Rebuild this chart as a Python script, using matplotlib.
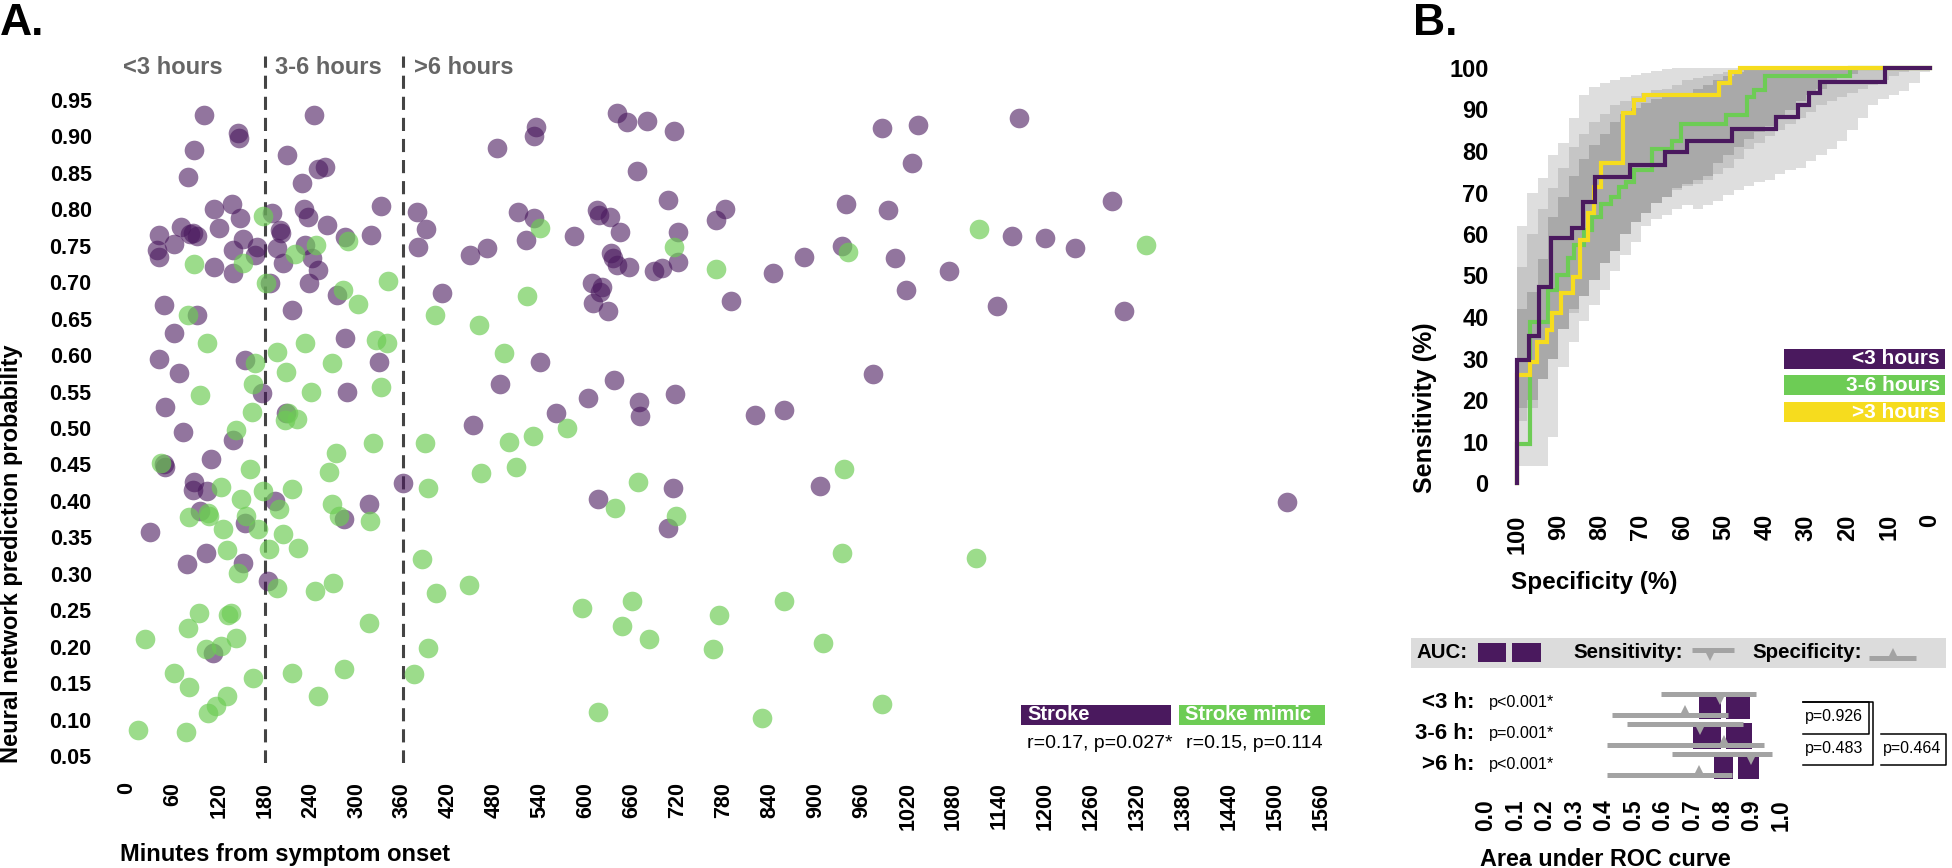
import matplotlib
matplotlib.use('Agg')
import matplotlib.pyplot as plt
from matplotlib.patches import Rectangle
from matplotlib.lines import Line2D
import numpy as np

plt.rcParams['font.family'] = ['Liberation Sans', 'DejaVu Sans']
plt.rcParams['font.weight'] = 'bold'

# ---------------- data: panel A (minutes, probability) ----------------
stroke_min = [100, 145, 146, 88, 80, 244, 209, 249, 259, 229, 114, 137, 148, 70, 82, 91, 86, 42, 62, 39, 42,
              120, 152, 138, 114, 138, 170, 167, 190, 200, 201, 196, 204, 231, 236, 261, 285, 319, 332, 232,
              242, 250, 238, 187, 274, 215, 48, 92, 61, 42, 68, 154, 177, 285, 329, 288, 49, 208, 73, 139,
              379, 391, 380, 412, 483, 535, 532, 511, 532, 521, 448, 470, 640, 653, 679, 715, 666, 707, 614,
              617, 631, 644, 584, 720, 632, 635, 640, 656, 689, 699, 720, 607, 621, 618, 609, 629, 539, 487,
              636, 602, 561, 669, 670, 716, 452,
              48, 50, 110, 87, 86, 104, 96, 154, 30, 103, 78, 151, 113, 193, 184, 316, 283, 361, 615, 713, 707,
              987, 1033, 1166, 1025, 939, 994, 1287, 781, 769, 1156, 1199, 1239, 844, 884, 934, 1003, 1074,
              1018, 789, 1137, 1302, 975, 821, 859, 906, 1516]
stroke_prob = [0.929, 0.905, 0.898, 0.882, 0.845, 0.930, 0.875, 0.856, 0.858, 0.836, 0.801, 0.807, 0.788,
               0.776, 0.766, 0.763, 0.768, 0.765, 0.753, 0.744, 0.735, 0.774, 0.760, 0.744, 0.721, 0.712,
               0.749, 0.737, 0.795, 0.772, 0.768, 0.747, 0.726, 0.801, 0.790, 0.779, 0.762, 0.765, 0.804,
               0.751, 0.733, 0.717, 0.699, 0.699, 0.683, 0.662, 0.669, 0.655, 0.630, 0.594, 0.575, 0.593,
               0.548, 0.623, 0.591, 0.550, 0.529, 0.520, 0.494, 0.483,
               0.797, 0.773, 0.748, 0.685, 0.884, 0.913, 0.900, 0.796, 0.788, 0.758, 0.737, 0.747, 0.932,
               0.920, 0.921, 0.907, 0.852, 0.813, 0.799, 0.792, 0.790, 0.769, 0.764, 0.769, 0.740, 0.733,
               0.724, 0.721, 0.715, 0.719, 0.728, 0.699, 0.694, 0.687, 0.671, 0.661, 0.590, 0.561, 0.566,
               0.541, 0.521, 0.536, 0.517, 0.546, 0.504,
               0.450, 0.446, 0.457, 0.426, 0.415, 0.413, 0.386, 0.370, 0.357, 0.329, 0.314, 0.315, 0.191,
               0.400, 0.290, 0.396, 0.375, 0.425, 0.402, 0.418, 0.363,
               0.911, 0.916, 0.926, 0.864, 0.808, 0.799, 0.811, 0.801, 0.785, 0.763, 0.761, 0.747, 0.712,
               0.735, 0.750, 0.733, 0.716, 0.689, 0.674, 0.667, 0.661, 0.574, 0.518, 0.525, 0.420, 0.398]

mimic_min = [178, 87, 151, 182, 219, 247, 289, 282, 302, 341, 80, 105, 196, 232, 208, 268, 325, 340, 167,
             164, 241, 332, 96, 163, 207, 222, 210, 143, 402, 460, 492, 523, 540, 715, 575, 499, 531, 389,
             322, 273,
             161, 264, 463, 508, 44, 123, 178, 215, 393, 668, 149, 268, 199, 81, 106, 107, 155, 277, 318,
             637, 717, 126, 171, 204, 130, 186, 224, 145, 196, 245, 269, 386, 404, 447, 94, 132, 136, 80,
             142, 316, 24, 103, 123, 595, 660, 647, 682, 393, 62, 81, 165, 215, 283, 375, 131, 249, 116,
             106, 15, 77, 616,
             1113, 1331, 770, 942, 937, 934, 1109, 858, 774, 766, 909, 987, 829]
mimic_prob = [0.791, 0.725, 0.726, 0.699, 0.739, 0.751, 0.756, 0.689, 0.670, 0.702, 0.655, 0.617, 0.604,
              0.617, 0.577, 0.589, 0.621, 0.617, 0.589, 0.561, 0.549, 0.556, 0.545, 0.522, 0.511, 0.513,
              0.520, 0.497, 0.655, 0.641, 0.603, 0.681, 0.775, 0.749, 0.500, 0.481, 0.489, 0.479, 0.479,
              0.466,
              0.444, 0.439, 0.438, 0.446, 0.452, 0.419, 0.413, 0.417, 0.418, 0.426, 0.403, 0.396, 0.389,
              0.378, 0.383, 0.379, 0.379, 0.379, 0.372, 0.390, 0.379, 0.362, 0.362, 0.354, 0.333, 0.334,
              0.336, 0.301, 0.281, 0.276, 0.287, 0.320, 0.274, 0.284, 0.246, 0.243, 0.246, 0.226, 0.212,
              0.232, 0.210, 0.197, 0.201, 0.253, 0.263, 0.228, 0.211, 0.198, 0.164, 0.144, 0.157, 0.164,
              0.169, 0.162, 0.133, 0.132, 0.118, 0.109, 0.085, 0.083, 0.111,
              0.773, 0.751, 0.718, 0.742, 0.444, 0.328, 0.322, 0.263, 0.243, 0.197, 0.205, 0.122, 0.102]

period_labels = ['<3 hours', '3-6 hours', '>6 hours']
period_bounds = [180, 360]
legend_A = ['Stroke', 'Stroke mimic']
corr_A = ['r=0.17, p=0.027*', 'r=0.15, p=0.114']

# ---------------- data: panel B ROC (specificity %, sensitivity %) ----------------
roc_lt3_spec = [100, 100, 97.0, 94.6, 91.8, 86.8, 83.9, 81.1, 72.6, 64.2, 58.9, 48.0, 37.4, 32.0, 29.4, 26.7, 10.8, 0]
roc_lt3_sens = [0, 29.6, 35.4, 47.3, 59.1, 61.4, 67.8, 73.8, 76.6, 79.8, 82.5, 85.3, 88.3, 91.1, 93.9, 96.7, 100, 100]
roc_36_spec = [100, 100, 96.9, 92.6, 90.2, 87.7, 86.1, 83.7, 81.9, 79.6, 77.2, 75.4, 73.5, 71.6, 67.2, 62.4,
               60.3, 49.3, 44.2, 42.6, 40.0, 19.3, 0]
roc_36_sens = [0, 9.5, 38.9, 46.5, 50.1, 54.1, 57.3, 61.0, 64.2, 67.2, 69.0, 71.4, 72.6, 75.4, 80.5, 82.5,
               86.5, 88.6, 93.0, 94.7, 98.0, 100, 100]
roc_gt6_spec = [100, 100, 96.9, 95.2, 92.8, 91.6, 89.3, 86.5, 84.7, 82.8, 81.4, 79.6, 74.4, 71.6, 69.3, 51.2,
                48.4, 46.1, 0]
roc_gt6_sens = [0, 26.0, 29.2, 34.0, 36.9, 40.9, 45.7, 49.7, 58.6, 65.0, 71.4, 77.0, 89.1, 92.3, 93.5, 96.3,
                99.1, 100, 100]
roc_labels = ['<3 hours', '3-6 hours', '>3 hours']

band_spec = [100, 97.5, 95, 92.5, 90, 87.5, 85, 82.5, 80, 77.5, 75, 72.5, 70, 67.5, 65, 62.5, 60, 57.5, 55,
             52.5, 50, 47.5, 45, 42.5, 40, 37.5, 35, 32.5, 30, 27.5, 25, 22.5, 20, 17.5, 15, 12.5, 10, 7.5,
             5, 2.5, 0]
band_light_up = [62, 70, 73.5, 79, 82, 88, 93.5, 95.5, 96.5, 97, 97.8, 98.3, 98.7, 99.3, 99.8, 100, 100, 100,
                 100, 100, 100, 100, 100, 100, 100, 100, 100, 100, 100, 100, 100, 100, 100, 100, 100, 100,
                 100, 100, 100, 100, 100]
band_light_lo = [4, 4, 4, 11, 28, 34, 39, 43, 46.5, 51, 55, 58, 62, 63.5, 64.5, 66, 67, 66, 67, 68, 69.5,
                 70.5, 71.5, 72.5, 73, 74.5, 75.5, 76, 77.5, 79, 80.5, 82.5, 85, 88, 91, 92.5, 93.5, 94.5,
                 96.5, 99, 100]
band_mid_up = [52, 60, 66, 71, 76, 81, 84, 87, 89, 91, 92, 93.3, 94, 94.7, 95, 96, 97, 97.5, 98, 98.5, 99,
               99.5, 100, 100, 100, 100, 100, 100, 100, 100, 100, 100, 100, 100, 100, 100, 100, 100, 100,
               100, 100]
band_mid_lo = [15, 18, 25, 32, 37, 41, 46, 50, 55, 58, 61, 64, 66.5, 68, 69, 70.5, 71.5, 72, 73, 74.5, 76,
               78, 80.5, 82, 83.5, 85, 86.5, 88, 89.5, 91, 92, 93, 94, 95, 96, 97, 98, 99, 99.5, 100, 100]
band_dark_up = [42, 46, 54, 64, 69, 74, 78, 81.5, 84, 87, 89, 90.3, 91.5, 92.5, 93, 93.5, 94, 95, 96, 97,
                98, 99, 100, 100, 100, 100, 100, 100, 100, 100, 100, 100, 100, 100, 100, 100, 100, 100,
                100, 100, 100]
band_dark_lo = [18, 20, 25, 30, 37, 42, 45, 49, 53, 56, 60, 63, 65, 67.5, 69, 71, 72, 73, 74, 77, 79, 81,
                83, 84.5, 86, 88, 90, 92, 93.5, 95, 96.5, 97.5, 98.5, 99.5, 100, 100, 100, 100, 100, 100,
                100]

# ---------------- data: panel B forest (AUC / sensitivity / specificity) ----------------
rows = ['<3 h:', '3-6 h:', '>6 h:']
row_p = ['p<0.001*', 'p=0.001*', 'p<0.001*']
auc_lo = [0.722, 0.701, 0.772]
auc_est = [0.804, 0.804, 0.845]
auc_hi = [0.893, 0.901, 0.926]
sens_lo = [0.593, 0.478, 0.630]
sens_est = [0.793, 0.725, 0.898]
sens_hi = [0.914, 0.870, 0.969]
spec_lo = [0.428, 0.410, 0.410]
spec_est = [0.673, 0.805, 0.722]
spec_hi = [0.819, 0.942, 0.833]
compare_p = ['p=0.926', 'p=0.483', 'p=0.464']

PURPLE = '#4A195E'
GREEN = '#6DCC55'
YELLOW = '#F6DC1E'
GREY = '#A3A3A3'

W, H = 1952, 868
fig = plt.figure(figsize=(W / 100, H / 100), dpi=100)


def fx(px):
    return px / W


def fy(py):
    return 1 - py / H


def figline(xs, ys, **kw):
    fig.add_artist(Line2D([fx(v) for v in xs], [fy(v) for v in ys], transform=fig.transFigure, **kw))


def figrect(x0, y0, x1, y1, color):
    fig.add_artist(Rectangle((fx(x0), fy(y1)), fx(x1) - fx(x0), fy(y0) - fy(y1),
                             transform=fig.transFigure, color=color, lw=0))


# ================= Panel A =================
ppm = (1321 - 127) / 1560.0
xa0, xa1 = -40, 1600
la = 127 + xa0 * ppm
ra = 127 + xa1 * ppm
axA = fig.add_axes([fx(la), fy(763), fx(ra - la), (763 - 56) / H])
axA.set_xlim(xa0, xa1)
axA.set_ylim(0.0404, 1.0104)
axA.scatter(stroke_min, stroke_prob, s=200, color=PURPLE, alpha=0.6, linewidths=0, zorder=3)
axA.scatter(mimic_min, mimic_prob, s=200, color=GREEN, alpha=0.68, linewidths=0, zorder=3)
for b in period_bounds:
    axA.axvline(b, color='#444444', lw=2.2, ls=(0, (4.3, 2.6)), zorder=2)
for xt, lab in zip([-5, 193, 375], period_labels):
    axA.text(xt, 0.994, lab, ha='left', va='center', fontsize=17, color='#666666', fontweight='bold')
for s in axA.spines.values():
    s.set_visible(False)
axA.set_yticks(np.round(np.arange(0.05, 0.951, 0.05), 2))
axA.set_yticklabels([f'{v:.2f}' for v in np.arange(0.05, 0.951, 0.05)])
axA.set_xticks(np.arange(0, 1561, 60))
axA.set_xticklabels([str(v) for v in range(0, 1561, 60)], rotation=90)
axA.tick_params(axis='y', length=0, labelsize=15.5, pad=3.4)
axA.tick_params(axis='x', length=0, labelsize=15.5, pad=14)

fig.text(fx(0), fy(3), 'A.', ha='left', va='top', fontsize=32, fontweight='bold')
fig.text(fx(120), fy(855), 'Minutes from symptom onset', ha='left', va='center', fontsize=17)
fig.text(fx(12), fy(763), 'Neural network prediction probability', rotation=90, ha='center', va='bottom',
         fontsize=17)

# legend A
figrect(1021, 705, 1171, 725, PURPLE)
figrect(1179, 705, 1325, 725, GREEN)
fig.text(fx(1027), fy(715), legend_A[0], color='white', fontsize=14.5, va='center', ha='left')
fig.text(fx(1185), fy(715), legend_A[1], color='white', fontsize=14.5, va='center', ha='left')
fig.text(fx(1027), fy(744), corr_A[0], fontsize=14, fontweight='normal', va='center', ha='left')
fig.text(fx(1186), fy(744), corr_A[1], fontsize=14, fontweight='normal', va='center', ha='left')

# ================= Panel B: ROC =================
pps = 4.13
ppy = 4.15
lb = 1517 - 2 * pps
tb = 68 - 2 * ppy
axB = fig.add_axes([fx(lb), fy(tb + 104 * ppy), fx(104 * pps), 104 * ppy / H])
axB.set_xlim(102, -2)
axB.set_ylim(-2, 102)
axB.fill_between(band_spec, band_light_lo, band_light_up, step='post', color='#DEDEDE', lw=0)
axB.fill_between(band_spec, band_mid_lo, band_mid_up, step='post', color='#C6C6C6', lw=0)
axB.fill_between(band_spec, band_dark_lo, band_dark_up, step='post', color='#A9A9A9', lw=0)
axB.plot(roc_36_spec, roc_36_sens, drawstyle='steps-post', color=GREEN, lw=3, solid_joinstyle='miter')
axB.plot(roc_gt6_spec, roc_gt6_sens, drawstyle='steps-post', color=YELLOW, lw=3, solid_joinstyle='miter')
axB.plot(roc_lt3_spec, roc_lt3_sens, drawstyle='steps-post', color=PURPLE, lw=3, solid_joinstyle='miter')
for s in axB.spines.values():
    s.set_visible(False)
axB.set_yticks(range(0, 101, 10))
axB.set_xticks(range(100, -1, -10))
axB.set_xticklabels([str(v) for v in range(100, -1, -10)], rotation=90)
axB.tick_params(axis='y', length=0, labelsize=17, pad=14.5)
axB.tick_params(axis='x', length=0, labelsize=17, pad=16.5)

fig.text(fx(1413), fy(3), 'B.', ha='left', va='top', fontsize=32)
fig.text(fx(1425), fy(493), 'Sensitivity (%)', rotation=90, ha='center', va='bottom', fontsize=18)
fig.text(fx(1511), fy(582), 'Specificity (%)', ha='left', va='center', fontsize=17.5)

for i, (lab, col) in enumerate(zip(roc_labels, [PURPLE, GREEN, YELLOW])):
    y0 = 349 + i * 26.5
    figrect(1784, y0, 1945, y0 + 20, col)
    fig.text(fx(1940), fy(y0 + 10), lab, color='white', ha='right', va='center', fontsize=15)

# ================= Panel B: forest =================
ppa = 295.5
lf = 1485.8 - 0.02 * ppa
axF = fig.add_axes([fx(lf), fy(790), fx(1.04 * ppa), 110 / H])
axF.set_xlim(-0.02, 1.02)
axF.set_ylim(790, 680)
gap = 0.008
for i in range(len(rows)):
    top = 693 + 30 * i
    axF.add_patch(Rectangle((auc_lo[i], top), auc_est[i] - gap - auc_lo[i], 25.5, color=PURPLE, lw=0))
    axF.add_patch(Rectangle((auc_est[i] + gap, top), auc_hi[i] - auc_est[i] - gap, 25.5, color=PURPLE, lw=0))
    ys = top + 1
    axF.plot([sens_lo[i], sens_hi[i]], [ys, ys], color=GREY, lw=3.6, solid_capstyle='butt')
    axF.plot([sens_est[i]], [ys + 4.5], marker='v', ms=8.5, color=GREY, mew=0)
    yp = top + 22
    axF.plot([spec_lo[i], spec_hi[i]], [yp, yp], color=GREY, lw=3.6, solid_capstyle='butt')
    axF.plot([spec_est[i]], [yp - 4.5], marker='^', ms=8.5, color=GREY, mew=0)
for s in axF.spines.values():
    s.set_visible(False)
axF.set_yticks([])
axF.set_xticks(np.round(np.arange(0, 1.01, 0.1), 1))
axF.set_xticklabels([f'{v:.1f}' for v in np.arange(0, 1.01, 0.1)], rotation=90)
axF.tick_params(axis='x', length=0, labelsize=16.4, pad=7)

fig.text(fx(1480), fy(860), 'Area under ROC curve', ha='left', va='center', fontsize=16.8)

row_c = [702, 733.5, 765]
for i, (lab, p) in enumerate(zip(rows, row_p)):
    fig.text(fx(1474), fy(row_c[i]), lab, ha='right', va='center', fontsize=16)
    fig.text(fx(1489), fy(row_c[i]), p, ha='left', va='center', fontsize=11.7, fontweight='normal')

# legend band
figrect(1411, 638, 1946, 668, '#DCDCDC')
fig.text(fx(1416), fy(653), 'AUC:', ha='left', va='center', fontsize=14.7)
figrect(1478, 643, 1506, 662, PURPLE)
figrect(1512, 643, 1540.5, 662, PURPLE)
fig.text(fx(1573), fy(653), 'Sensitivity:', ha='left', va='center', fontsize=14.8)
figline([1692, 1734], [650, 650], color=GREY, lw=3.6, solid_capstyle='butt')
figline([1710], [654.5], color=GREY, marker='v', ms=8.5, mew=0, lw=0)
fig.text(fx(1752), fy(653), 'Specificity:', ha='left', va='center', fontsize=14.8)
figline([1869, 1916], [658, 658], color=GREY, lw=3.6, solid_capstyle='butt')
figline([1892.6], [653.5], color=GREY, marker='^', ms=8.5, mew=0, lw=0)

# comparison brackets
kw = dict(color='black', lw=1.1)
figline([1803, 1869, 1869, 1803], [row_c[0], row_c[0], row_c[1], row_c[1]], **kw)
figline([1803, 1873, 1873, 1803], [row_c[0], row_c[0], row_c[2], row_c[2]], **kw)
figline([1881, 1946, 1946, 1881], [row_c[1], row_c[1], row_c[2], row_c[2]], **kw)
fig.text(fx(1805), fy(717), compare_p[0], ha='left', va='center', fontsize=11.5, fontweight='normal')
fig.text(fx(1805), fy(749), compare_p[1], ha='left', va='center', fontsize=11.5, fontweight='normal')
fig.text(fx(1883), fy(749), compare_p[2], ha='left', va='center', fontsize=11.5, fontweight='normal')

fig.savefig('out.png', dpi=100, facecolor='white')
